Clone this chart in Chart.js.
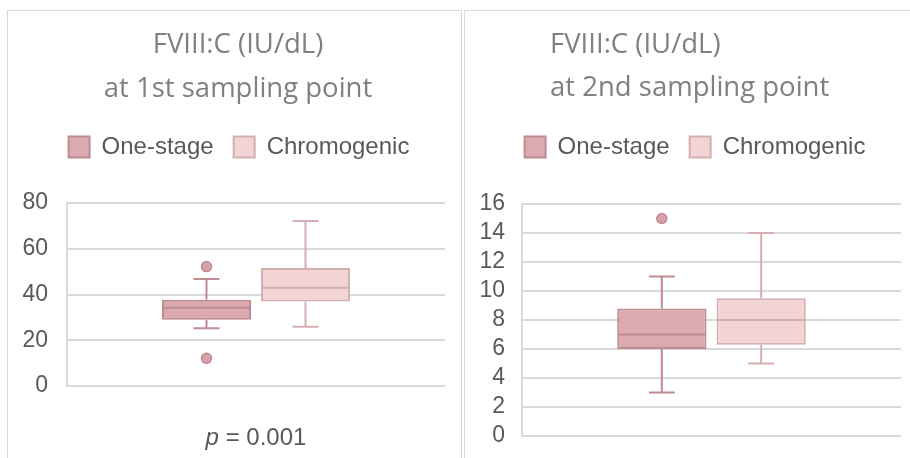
<!DOCTYPE html>
<html>
<head>
<meta charset="utf-8">
<script src="https://cdn.jsdelivr.net/npm/chart.js@4/dist/chart.umd.min.js"></script>
<style>
  html, body { margin:0; padding:0; background:#fff; }
  body { width:910px; height:458px; overflow:hidden; position:relative; }
  .panel { position:absolute; top:10px; height:520px; box-sizing:border-box; border:1px solid #dadada; border-bottom:none; }
  #panelA { left:7px; width:455px; }
  #panelB { left:464px; width:470px; border-right:none; }
  canvas { position:absolute; }
  #chartA { left:8px; top:11px; }
  #chartB { left:465px; top:11px; }
</style>
</head>
<body>
<div class="panel" id="panelA"></div>
<div class="panel" id="panelB"></div>
<canvas id="chartA" width="450" height="447"></canvas>
<canvas id="chartB" width="445" height="447"></canvas>
<script>
// groups shown in both panels
const groups = ['One-stage', 'Chromogenic'];

// FVIII:C at 1st sampling point (IU/dL)
const firstMin      = [25.2, 25.9];
const firstQ1       = [29.0, 36.9];
const firstMedian   = [34.2, 43.0];
const firstQ3       = [37.7, 51.6];
const firstMax      = [46.8, 72.1];
const firstOutliers = [[52.2, 12.1], []];
const firstTicks    = { min: 0, max: 80, step: 20 };
const firstTitle    = ['FVIII:C (IU/dL)', 'at 1st sampling point'];
const firstNote     = ['p', ' = 0.001'];

// FVIII:C at 2nd sampling point (IU/dL)
const secondMin      = [3.0, 5.0];
const secondQ1       = [6.0, 6.3];
const secondMedian   = [7.0, 8.0];
const secondQ3       = [8.8, 9.5];
const secondMax      = [11.0, 14.0];
const secondOutliers = [[15.0], []];
const secondTicks    = { min: 0, max: 16, step: 2 };
const secondTitle    = ['FVIII:C (IU/dL)', 'at 2nd sampling point'];

const FILLS = ['#dba9b0', '#f2d4d4'];
const LINES = ['#c08a91', '#d5aeb1'];
const DOTS  = ['#d7a2aa', '#eccaca'];
const TEXT  = '#595959';
const SANS  = "'Liberation Sans', Arial, sans-serif";

const stats = (mn, q1, md, q3, mx, out) => groups.map((g, i) => ({ min: mn[i], q1: q1[i], median: md[i], q3: q3[i], max: mx[i], outliers: out[i] }));

// whiskers behind the boxes, median + outliers on top
const boxPlot = {
  id: 'boxPlot',
  beforeDatasetsDraw(chart, args, opts){
    const { ctx, scales: { y } } = chart;
    opts.stats.forEach((s, i) => {
      const bar = chart.getDatasetMeta(i).data[0];
      const x = bar.x, h = opts.capWidth / 2;
      const pMax = y.getPixelForValue(s.max), pMin = y.getPixelForValue(s.min);
      ctx.save();
      ctx.strokeStyle = LINES[i]; ctx.lineWidth = 2;
      ctx.beginPath();
      ctx.moveTo(x, y.getPixelForValue(s.q3)); ctx.lineTo(x, pMax);
      ctx.moveTo(x - h, pMax); ctx.lineTo(x + h, pMax);
      ctx.moveTo(x, y.getPixelForValue(s.q1)); ctx.lineTo(x, pMin);
      ctx.moveTo(x - h, pMin); ctx.lineTo(x + h, pMin);
      ctx.stroke();
      ctx.restore();
    });
  },
  afterDatasetsDraw(chart, args, opts){
    const { ctx, scales: { y } } = chart;
    opts.stats.forEach((s, i) => {
      const bar = chart.getDatasetMeta(i).data[0];
      const pm = y.getPixelForValue(s.median);
      ctx.save();
      ctx.strokeStyle = LINES[i]; ctx.lineWidth = 2;
      ctx.beginPath();
      ctx.moveTo(bar.x - bar.width / 2 + 1, pm); ctx.lineTo(bar.x + bar.width / 2 - 1, pm);
      ctx.stroke();
      s.outliers.forEach(v => {
        ctx.beginPath();
        ctx.arc(bar.x, y.getPixelForValue(v), 5, 0, Math.PI * 2);
        ctx.fillStyle = DOTS[i]; ctx.fill();
        ctx.lineWidth = 1.5; ctx.stroke();
      });
      ctx.restore();
    });
  }
};

// two-line panel heading
const panelTitle = {
  id: 'panelTitle',
  afterDraw(chart, args, opts){
    const { ctx } = chart;
    ctx.save();
    ctx.font = "27.5px 'Open Sans', sans-serif";
    ctx.fillStyle = '#808080';
    ctx.textAlign = opts.align;
    ctx.textBaseline = 'alphabetic';
    opts.lines.forEach((t, i) => ctx.fillText(t, opts.x, opts.baselines[i]));
    ctx.restore();
  }
};

// category note under the plot, italic p
const axisNote = {
  id: 'axisNote',
  afterDraw(chart, args, opts){
    if(!opts.parts) return;
    const { ctx, chartArea } = chart;
    const x0 = chart.scales.x.getPixelForValue(0);
    ctx.save();
    ctx.fillStyle = TEXT; ctx.textBaseline = 'middle';
    const it = 'italic 24px ' + SANS, rg = '24px ' + SANS;
    ctx.font = it; const w1 = ctx.measureText(opts.parts[0]).width;
    ctx.font = rg; const w2 = ctx.measureText(opts.parts[1]).width;
    let x = x0 - (w1 + w2) / 2, yy = chartArea.bottom + opts.offset;
    ctx.font = it; ctx.fillText(opts.parts[0], x, yy);
    ctx.font = rg; ctx.fillText(opts.parts[1], x + w1, yy);
    ctx.restore();
  }
};

// legend sits a little right of the canvas centre in the original
const legendShift = {
  id: 'legendShift',
  afterLayout(chart, args, opts){
    if(chart.legend){ chart.legend.left += opts.dx; chart.legend.right += opts.dx; }
  }
};

function makeChart(id, st, ticks, cfg){
  return new Chart(document.getElementById(id), {
    type: 'bar',
    data: {
      labels: [''],
      datasets: groups.map((g, i) => ({
        label: g,
        data: [[st[i].q1, st[i].q3]],
        backgroundColor: FILLS[i],
        borderColor: LINES[i],
        borderWidth: 2,
        borderSkipped: false,
        categoryPercentage: 0.524,
        barPercentage: 0.899
      }))
    },
    options: {
      responsive: false,
      animation: false,
      events: [],
      layout: { padding: cfg.padding },
      plugins: {
        title: { display: false },
        tooltip: { enabled: false },
        legend: {
          position: 'top',
          labels: { boxWidth: 21, boxHeight: 21, padding: 20, color: TEXT, font: { family: SANS, size: 24 } }
        },
        boxPlot: { stats: st, capWidth: 26 },
        panelTitle: cfg.title,
        axisNote: cfg.note,
        legendShift: { dx: cfg.legendDx }
      },
      scales: {
        xTop: {
          type: 'category', position: 'top',
          grid: { display: false }, border: { display: false }, ticks: { display: false },
          afterFit: s => { s.height = cfg.topGap; }
        },
        x: {
          grid: { display: false }, border: { display: false }, ticks: { display: false },
          afterFit: s => { s.height = cfg.bottomGap; }
        },
        y: {
          min: ticks.min, max: ticks.max,
          ticks: { stepSize: ticks.step, autoSkip: false, padding: 0, color: TEXT, font: { family: SANS, size: 23 } },
          grid: { color: '#d9d9d9', lineWidth: 2, drawTicks: true, tickLength: cfg.tickGap, tickColor: 'rgba(0,0,0,0)' },
          border: { color: '#d9d9d9', width: 2 },
          afterFit: s => { s.width = cfg.axisWidth; }
        }
      }
    },
    plugins: [boxPlot, panelTitle, axisNote, legendShift]
  });
}

makeChart('chartA',
  stats(firstMin, firstQ1, firstMedian, firstQ3, firstMax, firstOutliers),
  firstTicks,
  {
    padding: { top: 104, left: 0, right: 13, bottom: 0 },
    topGap: 34, bottomGap: 72, axisWidth: 59, tickGap: 19, legendDx: 12.5,
    title: { lines: firstTitle, x: 230, align: 'center', baselines: [42, 86] },
    note: { parts: firstNote, offset: 52 }
  });

makeChart('chartB',
  stats(secondMin, secondQ1, secondMedian, secondQ3, secondMax, secondOutliers),
  secondTicks,
  {
    padding: { top: 104, left: 0, right: 9, bottom: 0 },
    topGap: 35, bottomGap: 22, axisWidth: 57, tickGap: 17, legendDx: 12,
    title: { lines: secondTitle, x: 85, align: 'left', baselines: [42, 85] },
    note: { parts: null }
  });
</script>
</body>
</html>
